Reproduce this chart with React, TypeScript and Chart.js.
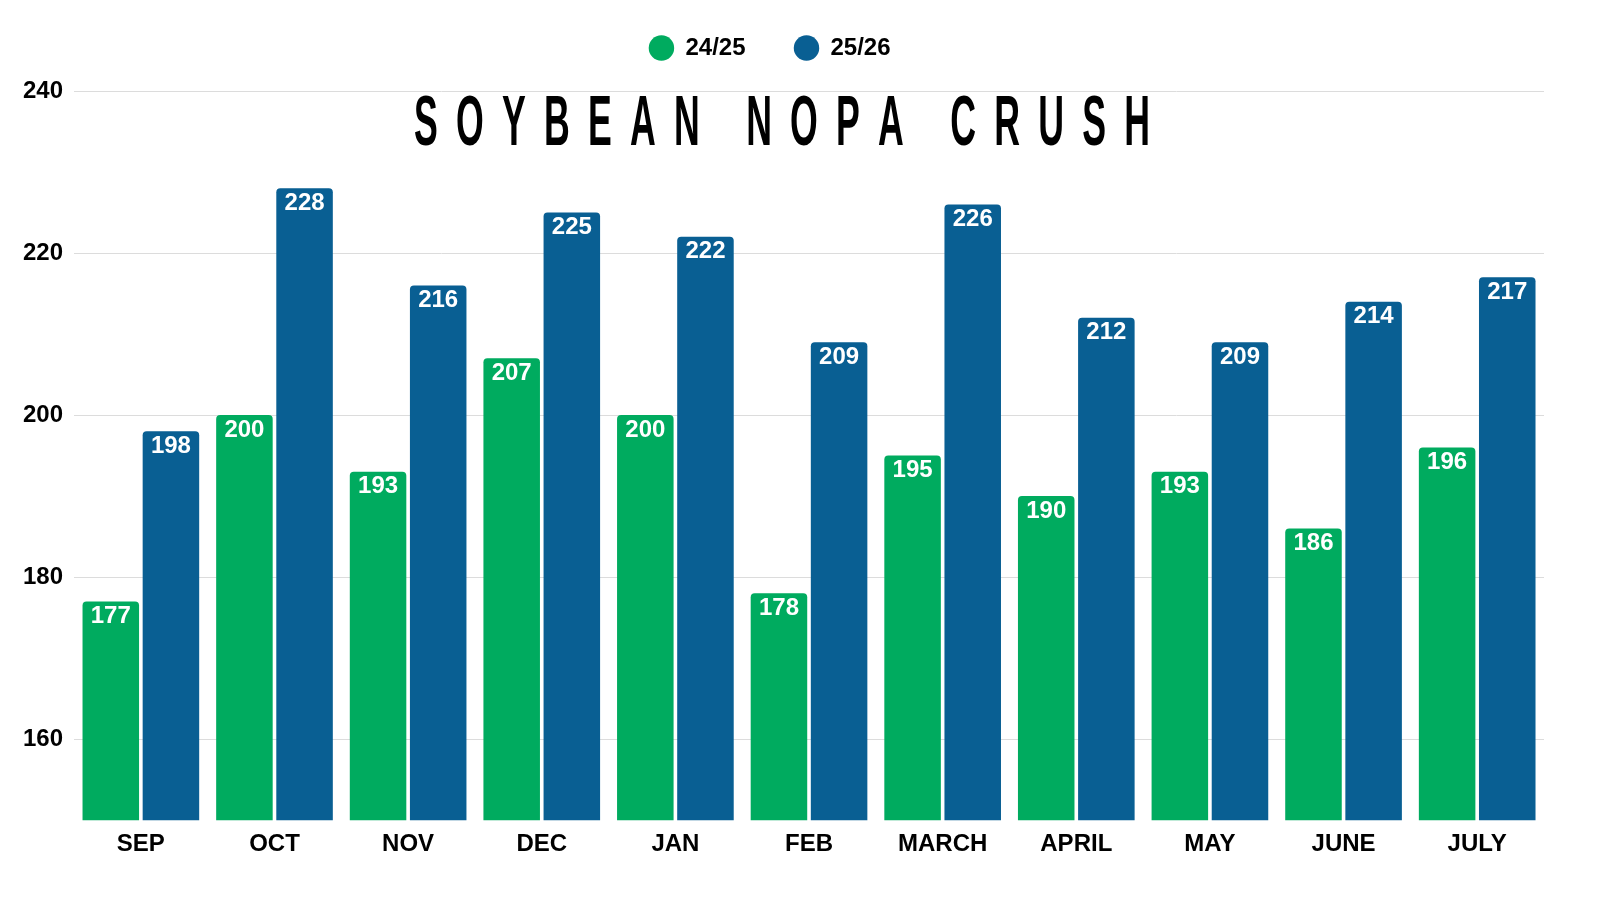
import * as React from 'react';
import {useRef, useEffect} from 'react';
import {Chart, registerables} from 'chart.js';

Chart.register(...registerables);

const months = ['SEP', 'OCT', 'NOV', 'DEC', 'JAN', 'FEB', 'MARCH', 'APRIL', 'MAY', 'JUNE', 'JULY'];
const crush2425 = [177, 200, 193, 207, 200, 178, 195, 190, 193, 186, 196];
const crush2526 = [198, 228, 216, 225, 222, 209, 226, 212, 209, 214, 217];
const seriesNames = ['24/25', '25/26'];
const yTicks = [160, 180, 200, 220, 240];
const chartTitle = 'SOYBEAN NOPA CRUSH';

const GREEN = '#00ab5f';
const BLUE = '#095f93';
const FONT = '"Liberation Sans", Arial, sans-serif';

// extra room under the legend, and nudge it a little left
const legendMargin = {
  id: 'legendMargin',
  beforeInit(chart: any) {
    const fit = chart.legend.fit;
    chart.legend.fit = function () {
      fit.bind(chart.legend)();
      this.height += 21;
    };
  },
  afterLayout(chart: any) {
    chart.legend.left -= 8;
    chart.legend.right -= 8;
  },
};

const barLabels = {
  id: 'barLabels',
  afterDatasetsDraw(chart: any) {
    const ctx = chart.ctx;
    ctx.save();
    ctx.fillStyle = '#ffffff';
    ctx.font = `bold 24px ${FONT}`;
    ctx.textAlign = 'center';
    ctx.textBaseline = 'middle';
    chart.data.datasets.forEach((ds: any, i: number) => {
      chart.getDatasetMeta(i).data.forEach((bar: any, j: number) => {
        ctx.fillText(String(ds.data[j]), bar.x, bar.y + 15);
      });
    });
    ctx.restore();
  },
};

// condensed, widely spaced title drawn over the plot
const titleText = {
  id: 'titleText',
  afterDraw(chart: any) {
    const ctx = chart.ctx;
    const sx = 0.51;
    const totalWidth = 736;
    const center = 782;
    const baseline = 145;
    ctx.save();
    ctx.fillStyle = '#000000';
    ctx.font = `bold 70px ${FONT}`;
    ctx.textBaseline = 'alphabetic';
    ctx.textAlign = 'left';
    const chars = chartTitle.split('');
    const widths = chars.map((c) => ctx.measureText(c).width * sx);
    const sum = widths.reduce((a, b) => a + b, 0);
    const gap = (totalWidth - sum) / (chars.length - 1);
    let x = center - totalWidth / 2;
    chars.forEach((c, i) => {
      ctx.save();
      ctx.translate(x, baseline);
      ctx.scale(sx, 1);
      ctx.fillText(c, 0, 0);
      ctx.restore();
      x += widths[i] + gap;
    });
    ctx.restore();
  },
};

function App(): JSX.Element {
  const chartContainer = useRef(null);

  useEffect(() => {
    document.body.style.margin = '0';
    if (!chartContainer.current) return;
    const chart = new Chart(chartContainer.current, {
      type: 'bar',
      data: {
        labels: months,
        datasets: [
          {label: seriesNames[0], data: crush2425, backgroundColor: GREEN, borderRadius: 4},
          {label: seriesNames[1], data: crush2526, backgroundColor: BLUE, borderRadius: 4},
        ],
      },
      options: {
        animation: false,
        responsive: false,
        maintainAspectRatio: false,
        layout: {padding: {left: 12, right: 56, top: -13, bottom: 39}},
        datasets: {bar: {categoryPercentage: 0.9, barPercentage: 0.94}},
        plugins: {
          legend: {
            position: 'top',
            labels: {
              usePointStyle: true,
              pointStyle: 'circle',
              boxWidth: 24,
              boxHeight: 18,
              padding: 49,
              color: '#000',
              font: {family: FONT, size: 24, weight: 'bold'},
            },
          },
          tooltip: {enabled: false},
        },
        scales: {
          x: {
            grid: {display: false},
            border: {display: false},
            ticks: {
              color: '#000',
              padding: 2,
              font: {family: FONT, size: 24, weight: 'bold'},
            },
          },
          y: {
            min: 150,
            max: 240,
            afterBuildTicks: (scale: any) => {
              scale.ticks = yTicks.map((v) => ({value: v}));
            },
            grid: {color: '#dcdcdc', drawTicks: false},
            border: {display: false},
            ticks: {
              color: '#000',
              padding: 11,
              font: {family: FONT, size: 24, weight: 'bold'},
            },
          },
        },
      },
      plugins: [legendMargin, barLabels, titleText],
    } as any);
    return () => {
      chart.destroy();
    };
  }, []);

  return (
    <div style={{width: 1600, height: 900}}>
      <canvas ref={chartContainer} width={1600} height={900} />
    </div>
  );
}

export default App;
